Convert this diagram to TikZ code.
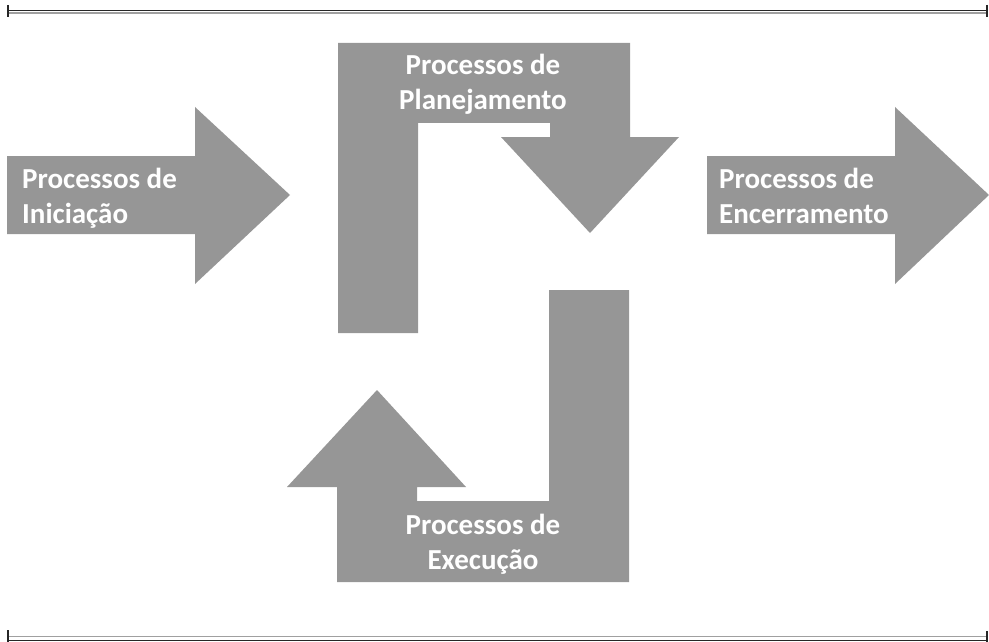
\documentclass[tikz,border=0pt]{standalone}
\usepackage{fontspec}
\setmainfont{Carlito}
\definecolor{arrowgray}{RGB}{150,150,150}
\definecolor{rulegray}{RGB}{160,160,160}
\begin{document}
\begin{tikzpicture}[x=1pt,y=-1pt,
  shape fill/.style={fill=arrowgray,draw=none},
  lbl/.style={text=white,font=\fontsize{29}{35}\selectfont\bfseries,inner sep=0pt},
  rule dark/.style={draw=black!85,line width=1pt},
  rule light/.style={draw=rulegray,line width=1.2pt},
  tick/.style={draw=black!85,line width=2pt}]
\useasboundingbox (0,0) rectangle (989,642);
% top rule
\draw[rule dark] (8,10.5) -- (987,10.5);
\draw[rule light] (8,13) -- (987,13);
\draw[tick] (8,5) -- (8,17);
\draw[tick] (987,5) -- (987,17);
% bottom rule
\draw[rule light] (8,636.5) -- (987,636.5);
\draw[rule dark] (8,640) -- (987,640);
\draw[tick] (8,630) -- (8,642);
\draw[tick] (987,631) -- (987,642);
% initiation arrow
\fill[shape fill] (7,156) -- (195,156) -- (195,107) -- (290,195) -- (195,284) -- (195,234) -- (7,234) -- cycle;
% closing arrow
\fill[shape fill] (707,156) -- (895,156) -- (895,107) -- (989,195) -- (895,284) -- (895,234) -- (707,234) -- cycle;
% planning bent arrow
\fill[shape fill] (338,43) -- (630,43) -- (630,137) -- (679,137) -- (590,233) -- (501,137) -- (550,137) -- (550,123) -- (418,123) -- (418,333) -- (338,333) -- cycle;
% execution bent arrow
\fill[shape fill] (337,582) -- (629,582) -- (629,290) -- (549,290) -- (549,501) -- (417,501) -- (417,487) -- (466,487) -- (377,390) -- (287,487) -- (337,487) -- cycle;
% labels
\node[lbl,anchor=base west,align=left] (ini) at (22,223) {Processos de\\Iniciação};
\node[lbl,anchor=base west,align=left] (enc) at (719,223) {Processos de\\Encerramento};
\node[lbl,anchor=base,align=center] (plan) at (483,110) {Processos de\\Planejamento};
\node[lbl,anchor=base,align=center] (exec) at (483,569) {Processos de\\Execução};
\end{tikzpicture}
\end{document}
